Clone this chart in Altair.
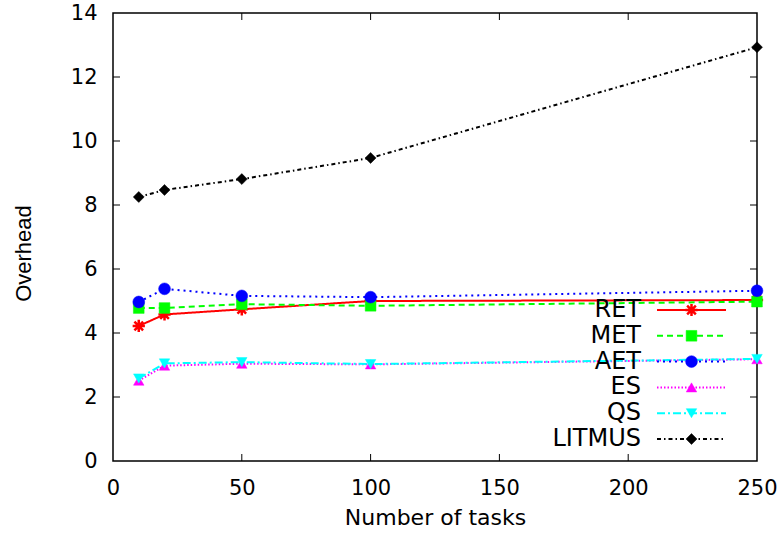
import altair as alt
import pandas as pd

# Number of tasks on the x axis
tasks = [10, 20, 50, 100, 250]

# Overhead per scheduler
series_names = ["RET", "MET", "AET", "ES", "QS", "LITMUS"]
ret = [4.22, 4.58, 4.74, 5.00, 5.03]
met = [4.78, 4.78, 4.90, 4.85, 4.98]
aet = [4.97, 5.38, 5.16, 5.12, 5.32]
es = [2.51, 2.98, 3.04, 3.02, 3.18]
qs = [2.58, 3.05, 3.09, 3.03, 3.19]
litmus = [8.25, 8.47, 8.81, 9.47, 12.93]

x_ticks = [0, 50, 100, 150, 200, 250]
y_ticks = [0, 2, 4, 6, 8, 10, 12, 14]

values = {"RET": ret, "MET": met, "AET": aet, "ES": es, "QS": qs, "LITMUS": litmus}
rows = []
for name in series_names:
    for t, v in zip(tasks, values[name]):
        rows.append({"series": name, "tasks": t, "value": v})
df = pd.DataFrame(rows)
legend_df = pd.DataFrame({"series": series_names, "row": list(range(len(series_names)))})
xtick_df = pd.DataFrame({"tasks": x_ticks[1:-1]})
ytick_df = pd.DataFrame({"value": y_ticks[1:-1]})

ASTERISK = "M-1,0L1,0M0,-1L0,1M-0.71,-0.71L0.71,0.71M-0.71,0.71L0.71,-0.71"

styles = {
    "RET": dict(color="#ff0000", dash=[1, 0], shape=ASTERISK, size=150, filled=False),
    "MET": dict(color="#00ff00", dash=[6, 4], shape="square", size=115, filled=True),
    "AET": dict(color="#0000ff", dash=[2, 4], shape="circle", size=140, filled=True),
    "ES": dict(color="#ff00ff", dash=[1.5, 2], shape="triangle-up", size=110, filled=True),
    "QS": dict(color="#00ffff", dash=[8, 3, 2, 3], shape="triangle-down", size=110, filled=True),
    "LITMUS": dict(color="#000000", dash=[4, 3, 1.5, 3], shape="diamond", size=120, filled=True),
}

W, H = 644, 448
TICK = 7
LABEL_FONT = "DejaVu Sans"

x_scale = alt.Scale(domain=[0, 250], nice=False, zero=False)
y_scale = alt.Scale(domain=[0, 14], nice=False)
x_axis = alt.Axis(values=x_ticks, ticks=False, tickSize=0, domain=False, grid=False,
                  labelPadding=16, titlePadding=9, labelFlush=False,
                  titleFontSize=22)
y_axis = alt.Axis(values=y_ticks, ticks=False, tickSize=0, domain=False, grid=False,
                  labelPadding=16, titleFont="Liberation Sans", titleFontSize=22,
                  titleX=-90, titleY=240, titleAngle=270, titleAlign="center",
                  titleBaseline="middle")
X = alt.X("tasks:Q", scale=x_scale, axis=x_axis, title="Number of tasks")
Y = alt.Y("value:Q", scale=y_scale, axis=y_axis, title="Overhead")

base = alt.Chart(df)
layers = []


def marker(chart, s):
    if s["filled"]:
        return chart.mark_point(shape=s["shape"], size=s["size"], filled=True,
                                color=s["color"], opacity=1, strokeWidth=0.5,
                                stroke=s["color"])
    return chart.mark_point(shape=s["shape"], size=s["size"], filled=False,
                            color=s["color"], opacity=1, strokeWidth=2.5)


# data series: line + markers
for name in series_names:
    s = styles[name]
    sub = base.transform_filter(alt.datum.series == name)
    layers.append(sub.mark_line(color=s["color"], strokeDash=s["dash"], strokeWidth=2)
                  .encode(x=X, y=Y))
    layers.append(marker(sub, s).encode(x=X, y=Y))

# key in the lower right of the plot
LEG_Y0, LEG_DY = 297, 25.8
TEXT_X, LINE_X0, LINE_X1 = 528, 544, 613
leg_base = alt.Chart(legend_df).transform_calculate(
    ly=f"{LEG_Y0} + {LEG_DY} * datum.row")
LY = alt.Y("ly:Q", scale=None)
for name in series_names:
    s = styles[name]
    sub = leg_base.transform_filter(alt.datum.series == name)
    layers.append(sub.mark_text(align="right", baseline="middle", font=LABEL_FONT,
                                fontSize=24, color="black")
                  .encode(x=alt.value(TEXT_X), y=LY, text="series:N"))
    layers.append(sub.mark_rule(color=s["color"], strokeDash=s["dash"], strokeWidth=2)
                  .encode(x=alt.value(LINE_X0), x2=alt.value(LINE_X1), y=LY))
    layers.append(marker(sub, s).encode(x=alt.value((LINE_X0 + LINE_X1) / 2), y=LY))

# inward tick marks on all four sides
xt = alt.Chart(xtick_df)
yt = alt.Chart(ytick_df)
layers.append(xt.mark_rule(color="black", strokeWidth=1)
              .encode(x=X, y=alt.value(H), y2=alt.value(H - TICK)))
layers.append(xt.mark_rule(color="black", strokeWidth=1)
              .encode(x=X, y=alt.value(0), y2=alt.value(TICK)))
layers.append(yt.mark_rule(color="black", strokeWidth=1)
              .encode(y=Y, x=alt.value(0), x2=alt.value(TICK)))
layers.append(yt.mark_rule(color="black", strokeWidth=1)
              .encode(y=Y, x=alt.value(W), x2=alt.value(W - TICK)))

chart = alt.layer(*layers).properties(
    width=W, height=H,
    padding={"left": 113, "top": 13, "right": 23, "bottom": 79},
    autosize=alt.AutoSizeParams(type="none"),
    background="white",
).configure_view(
    stroke="black", strokeWidth=1.5
).configure_axis(
    labelFont=LABEL_FONT, labelFontSize=21, labelColor="black",
    titleFont=LABEL_FONT, titleFontSize=21, titleFontWeight="normal", titleColor="black",
)

chart.save("out.html", embed_options={"renderer": "svg", "actions": False})
